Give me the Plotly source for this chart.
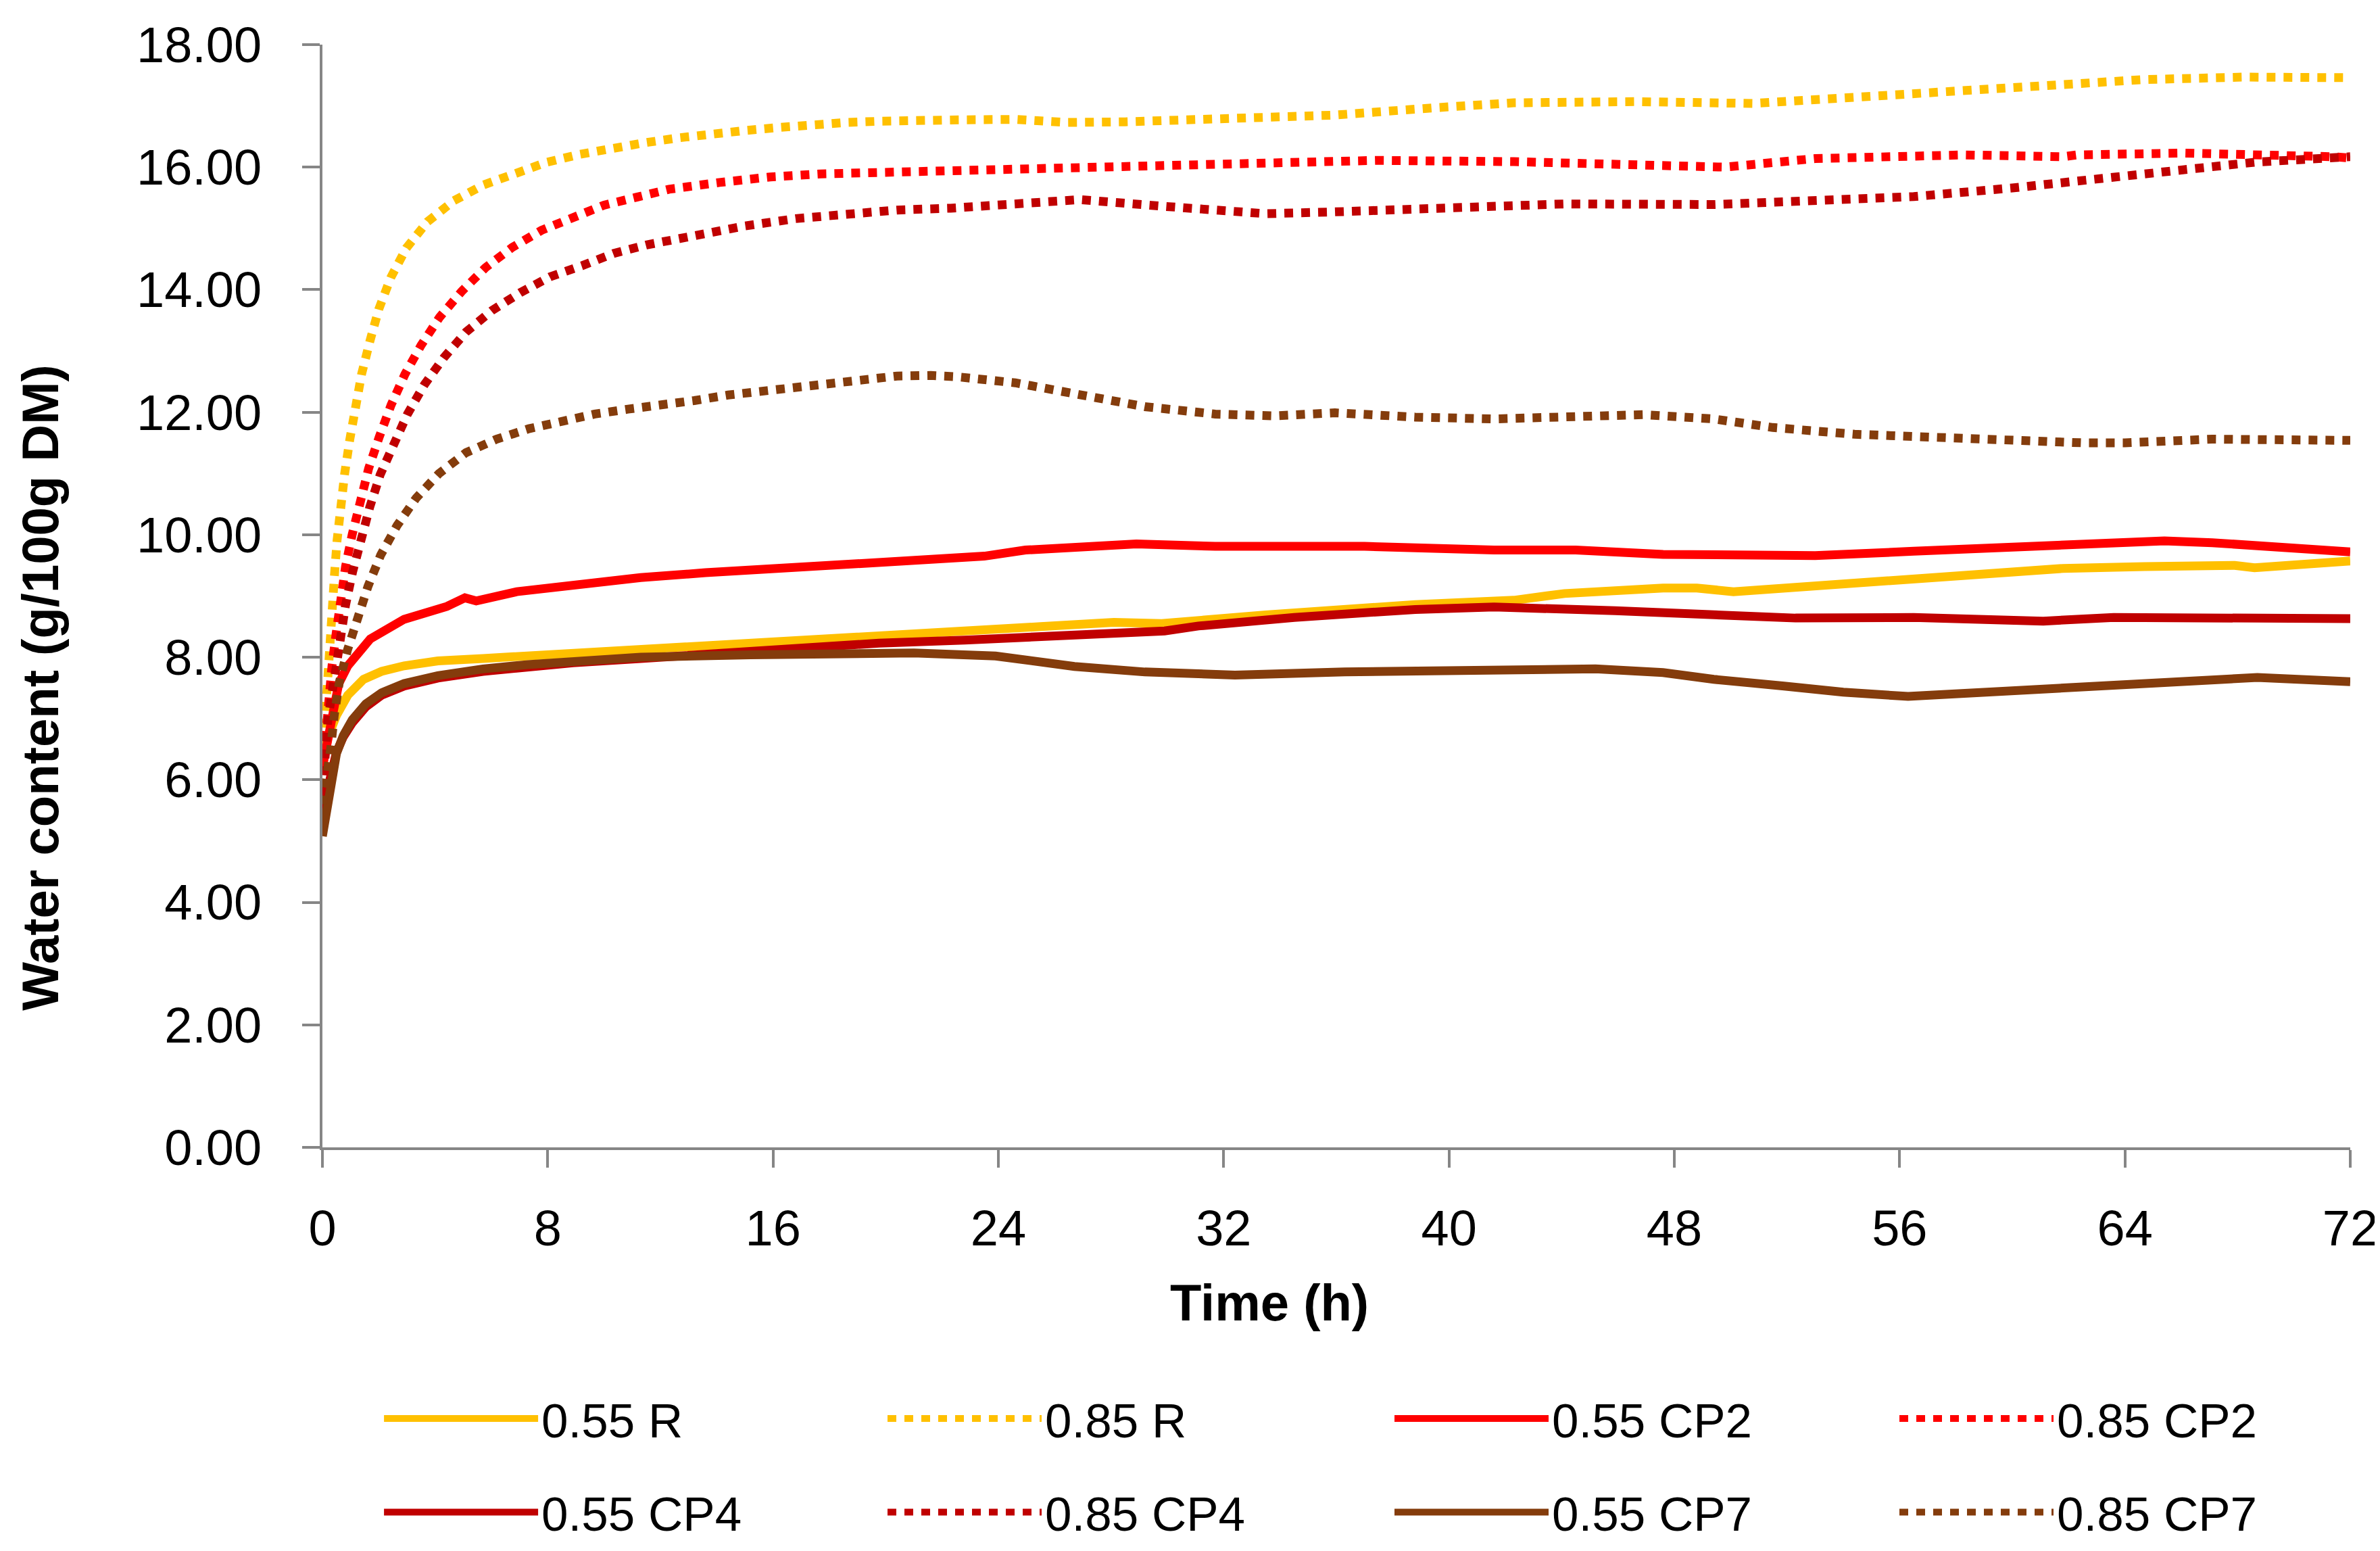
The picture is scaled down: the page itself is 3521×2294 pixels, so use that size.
import plotly.graph_objects as go

# ---- data (time in h, water content in g/100g DM) ----
t_055R = [0, 0.2, 0.5, 0.9, 1.46, 2.1, 2.9, 4.1, 5.7, 8.1, 11.3, 13.6, 16.7, 19.8, 22.8, 25.5, 28.1, 29.8, 33.5, 38.8, 42.3, 44.1, 47.6, 48.8, 50.1, 54.7, 58.3, 61.8, 64.7, 67.9, 68.6, 72]
w_055R = [6.2, 6.7, 7.05, 7.38, 7.64, 7.77, 7.86, 7.94, 7.98, 8.04, 8.11, 8.18, 8.26, 8.34, 8.42, 8.5, 8.57, 8.55, 8.69, 8.86, 8.93, 9.04, 9.13, 9.13, 9.07, 9.23, 9.35, 9.45, 9.48, 9.50, 9.46, 9.57]

t_085R = [0, 0.07, 0.18, 0.28, 0.36, 0.43, 0.52, 0.63, 0.79, 0.97, 1.16, 1.39, 1.68, 2.0, 2.43, 2.98, 3.73, 4.66, 5.72, 6.83, 7.97, 9.14, 10.3, 11.47, 12.68, 13.87, 15.05, 16.27, 17.46, 18.65, 19.83, 21.02, 22.3, 24.6, 26.4, 28.5, 31.7, 35.95, 39.5, 42.3, 46.6, 50.8, 55.1, 60.0, 64.7, 68.2, 72]
w_085R = [6.3, 6.9, 7.73, 8.27, 8.82, 9.36, 9.91, 10.46, 11.0, 11.55, 12.08, 12.62, 13.15, 13.68, 14.2, 14.68, 15.11, 15.45, 15.71, 15.91, 16.08, 16.21, 16.32, 16.4, 16.48, 16.55, 16.6, 16.65, 16.7, 16.73, 16.75, 16.77, 16.77, 16.78, 16.73, 16.74, 16.79, 16.85, 16.97, 17.05, 17.07, 17.04, 17.16, 17.28, 17.43, 17.47, 17.46]

t_055CP2 = [0, 0.3, 0.58, 0.9, 1.7, 2.9, 4.42, 5.06, 5.46, 6.9, 8.9, 11.3, 13.6, 16.7, 19.6, 20.4, 22.3, 23.5, 24.96, 26.7, 28.9, 31.7, 37.0, 41.6, 44.5, 47.6, 51.2, 53.0, 56.5, 61.8, 65.4, 67.1, 70.0, 72]
w_055CP2 = [6.2, 7.0, 7.57, 7.86, 8.3, 8.62, 8.83, 8.97, 8.92, 9.07, 9.18, 9.3, 9.38, 9.47, 9.53, 9.58, 9.62, 9.65, 9.75, 9.8, 9.85, 9.81, 9.81, 9.75, 9.75, 9.68, 9.68, 9.66, 9.73, 9.82, 9.9, 9.87, 9.8, 9.72]

t_085CP2 = [0, 0.15, 0.34, 0.49, 0.62, 0.82, 1.06, 1.34, 1.64, 2.02, 2.44, 2.93, 3.5, 4.16, 4.94, 5.79, 6.74, 7.78, 8.87, 10.0, 11.16, 12.31, 14.1, 15.9, 17.7, 19.5, 22.0, 25.0, 28.1, 32.0, 37.4, 42.3, 46.0, 49.4, 49.8, 53.0, 54.7, 58.3, 61.8, 62.3, 66.1, 67.8, 71.4, 72]
w_085CP2 = [6.1, 7.1, 7.86, 8.4, 8.94, 9.48, 10.01, 10.55, 11.08, 11.6, 12.12, 12.62, 13.09, 13.55, 13.97, 14.36, 14.69, 14.97, 15.19, 15.38, 15.51, 15.64, 15.75, 15.84, 15.89, 15.91, 15.94, 15.98, 16.04, 16.07, 16.11, 16.09, 16.06, 16.03, 16.0, 16.14, 16.17, 16.2, 16.17, 16.2, 16.23, 16.22, 16.17, 16.15]

t_055CP4 = [0, 0.34, 0.5, 0.74, 1.06, 1.54, 2.1, 2.9, 4.1, 5.7, 7.3, 8.9, 11.3, 13.6, 16.7, 19.76, 22.8, 26.0, 29.9, 31.1, 34.5, 38.8, 41.6, 45.9, 49.4, 52.3, 56.5, 61.1, 63.6, 67.9, 72]
w_055CP4 = [5.5, 6.2, 6.45, 6.7, 6.93, 7.19, 7.38, 7.53, 7.66, 7.77, 7.85, 7.91, 7.98, 8.05, 8.14, 8.23, 8.28, 8.36, 8.43, 8.51, 8.65, 8.78, 8.82, 8.76, 8.71, 8.64, 8.65, 8.59, 8.65, 8.65, 8.63]

t_085CP4 = [0, 0.2, 0.46, 0.61, 0.82, 1.07, 1.36, 1.68, 2.05, 2.5, 3.02, 3.62, 4.31, 5.1, 6.02, 7.02, 8.08, 9.21, 10.33, 11.5, 13.2, 15.0, 16.8, 18.6, 20.4, 22.3, 24.5, 26.9, 29.9, 33.5, 35.95, 39.5, 44.1, 49.4, 53.0, 56.5, 60.0, 62.9, 65.7, 68.6, 72]
w_085CP4 = [5.8, 7.0, 7.76, 8.31, 8.85, 9.39, 9.92, 10.45, 10.98, 11.48, 11.97, 12.45, 12.89, 13.31, 13.66, 13.95, 14.21, 14.39, 14.59, 14.73, 14.89, 15.04, 15.16, 15.23, 15.3, 15.33, 15.4, 15.47, 15.36, 15.24, 15.27, 15.33, 15.40, 15.39, 15.44, 15.52, 15.66, 15.8, 15.97, 16.08, 16.17]

t_055CP7 = [0, 0.18, 0.34, 0.5, 0.74, 1.06, 1.54, 2.1, 2.9, 4.1, 5.7, 7.3, 8.9, 11.3, 15.2, 17.5, 21.0, 23.9, 26.7, 29.2, 32.4, 36.3, 41.6, 45.2, 47.6, 49.4, 51.9, 54.0, 56.3, 59.3, 62.9, 65.4, 68.7, 72]
w_055CP7 = [5.08, 5.48, 6.0, 6.43, 6.72, 6.98, 7.24, 7.42, 7.57, 7.7, 7.81, 7.88, 7.94, 8.0, 8.04, 8.04, 8.07, 8.02, 7.85, 7.76, 7.71, 7.76, 7.81, 7.81, 7.75, 7.64, 7.53, 7.43, 7.36, 7.43, 7.53, 7.59, 7.67, 7.60]

t_085CP7 = [0, 0.14, 0.29, 0.42, 0.6, 0.89, 1.22, 1.62, 2.07, 2.65, 3.33, 4.14, 5.1, 6.18, 7.33, 8.49, 9.67, 10.85, 12.0, 13.2, 14.4, 15.6, 16.8, 18.0, 19.3, 20.4, 21.6, 22.5, 24.6, 26.7, 29.2, 31.7, 33.8, 35.95, 38.8, 41.6, 44.5, 46.9, 49.4, 51.5, 54.4, 58.3, 62.5, 64.0, 67.1, 72]
w_085CP7 = [5.6, 5.96, 6.5, 7.05, 7.59, 8.12, 8.64, 9.16, 9.67, 10.15, 10.6, 11.0, 11.34, 11.56, 11.73, 11.85, 11.97, 12.05, 12.11, 12.19, 12.28, 12.34, 12.38, 12.47, 12.53, 12.59, 12.6, 12.58, 12.48, 12.31, 12.09, 11.97, 11.94, 11.99, 11.92, 11.89, 11.92, 11.96, 11.89, 11.75, 11.64, 11.56, 11.5, 11.5, 11.56, 11.54]

x_ticks = [0, 8, 16, 24, 32, 40, 48, 56, 64, 72]
y_ticks = [0, 2, 4, 6, 8, 10, 12, 14, 16, 18]

names = ["0.55 R", "0.85 R", "0.55 CP2", "0.85 CP2", "0.55 CP4", "0.85 CP4", "0.55 CP7", "0.85 CP7"]
times = [t_055R, t_085R, t_055CP2, t_085CP2, t_055CP4, t_085CP4, t_055CP7, t_085CP7]
values = [w_055R, w_085R, w_055CP2, w_085CP2, w_055CP4, w_085CP4, w_055CP7, w_085CP7]
colors = ["#FFC000", "#FFC000", "#FF0000", "#FF0000", "#C00000", "#C00000", "#843C0C", "#843C0C"]
dashes = ["solid", "13px,12px"] * 4

FONT = "Liberation Sans, Arial, sans-serif"

# legend grid: 4 columns x 2 rows (paper coords)
leg_x = [0.0287, 0.277, 0.527, 0.776]
leg_y = [-0.246, -0.331]

fig = go.Figure()
legends = {}
for i, (name, t, w, col, dash) in enumerate(zip(names, times, values, colors, dashes)):
    key = "legend" if i == 0 else f"legend{i + 1}"
    fig.add_trace(go.Scatter(
        x=t, y=w, name=name, mode="lines", legend=key,
        line=dict(color=col, width=13, dash=dash),
    ))
    legends[key] = dict(
        x=leg_x[i % 4], y=leg_y[i // 4], xanchor="left", yanchor="middle",
        orientation="h", font=dict(family=FONT, size=71, color="#000000"),
        itemwidth=228, bgcolor="rgba(0,0,0,0)",
    )

axis_common = dict(
    showline=True, linecolor="#868686", linewidth=4,
    ticks="outside", ticklen=26, tickwidth=4, tickcolor="#868686",
    showgrid=False, zeroline=False,
    tickfont=dict(family=FONT, size=74, color="#000000"),
)

fig.update_layout(
    width=3521, height=2294,
    paper_bgcolor="white", plot_bgcolor="white",
    margin=dict(l=469, r=52, t=58, b=594),
    font=dict(family=FONT, color="#000000"),
    xaxis=dict(range=[0, 72], tickvals=x_ticks, ticktext=[str(v) for v in x_ticks],
               ticklabelstandoff=26, **axis_common),
    yaxis=dict(range=[0, 18], tickvals=y_ticks, ticktext=[f"{v:.2f}" for v in y_ticks],
               ticklabelstandoff=45, **axis_common),
    showlegend=True,
    annotations=[
        dict(text="<b>Time (h)</b>", xref="paper", yref="paper", x=0.467, y=-0.1407,
             xanchor="center", yanchor="middle", showarrow=False,
             font=dict(family=FONT, size=76, color="#000000")),
        dict(text="<b>Water content (g/100g DM)</b>", xref="paper", yref="paper", x=-0.139, y=0.417,
             xanchor="center", yanchor="middle", showarrow=False, textangle=-90,
             font=dict(family=FONT, size=76, color="#000000")),
    ],
    **legends,
)

fig.write_html("out.html")
